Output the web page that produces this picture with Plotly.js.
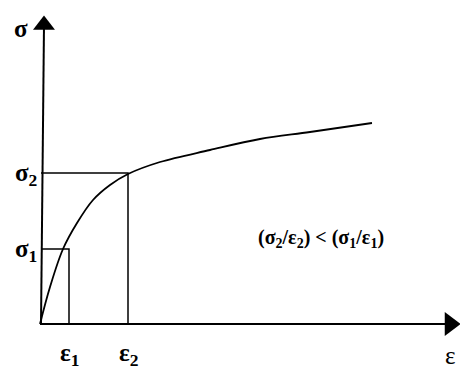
<!DOCTYPE html>
<html>
<head>
<meta charset="utf-8">
<script src="https://cdn.plot.ly/plotly-3.0.1.min.js"></script>
<style>html,body{margin:0;padding:0;background:#fff;}#chart{width:460px;height:371px;}</style>
</head>
<body>
<div id="chart"></div>
<script>
// Stress–strain curve (arbitrary units)
const curveStrain = [0, 10, 23, 37, 53, 70, 88, 120, 170, 220, 270, 332];
const curveStress = [0, 37, 75, 101, 124, 139, 150, 162, 174, 185, 192, 201];
// Marked points
const strainMarks = [29, 88];
const stressMarks = [75, 151];
const strainLabels = ['ε<sub>1</sub>', 'ε<sub>2</sub>'];
const stressLabels = ['σ<sub>1</sub>', 'σ<sub>2</sub>'];
// Axis extents
const xAxisEnd = 410;
const yAxisEnd = 299;

const black = '#000';
const traces = [];
// x axis
traces.push({x: [0, xAxisEnd], y: [0, 0], mode: 'lines', line: {color: black, width: 2}, hoverinfo: 'skip'});
traces.push({x: [xAxisEnd], y: [0], mode: 'markers', marker: {symbol: 'triangle-right', size: 21, color: black}, hoverinfo: 'skip'});
// y axis
traces.push({x: [1, 4], y: [0, yAxisEnd], mode: 'lines', line: {color: black, width: 2}, hoverinfo: 'skip'});
traces.push({x: [4], y: [yAxisEnd], mode: 'markers', marker: {symbol: 'triangle-up', size: 19, color: black}, hoverinfo: 'skip'});
// rectangles
for (let i = 0; i < strainMarks.length; i++) {
  traces.push({x: [1, strainMarks[i], strainMarks[i]], y: [stressMarks[i], stressMarks[i], 0],
    mode: 'lines', line: {color: black, width: 1.5}, hoverinfo: 'skip'});
}
// curve
traces.push({x: curveStrain, y: curveStress, mode: 'lines', line: {color: black, width: 1.8, shape: 'spline', smoothing: 1}, hoverinfo: 'skip'});

const font = {family: 'Liberation Serif, Times New Roman, serif', color: black, size: 25};
const annotations = [];
for (let i = 0; i < strainMarks.length; i++) {
  annotations.push({x: strainMarks[i], y: -30, xref: 'x', yref: 'y', text: '<b>' + strainLabels[i] + '</b>', showarrow: false, font: font, xanchor: 'center', yanchor: 'middle'});
  annotations.push({x: -1, y: stressMarks[i] - 1, xref: 'x', yref: 'y', text: '<b>' + stressLabels[i] + '</b>', showarrow: false, font: font, xanchor: 'right', yanchor: 'middle'});
}
annotations.push({x: -19, y: 296, xref: 'x', yref: 'y', text: '<b>σ</b>', showarrow: false, font: font, xanchor: 'center', yanchor: 'middle'});
annotations.push({x: 410, y: -47, xref: 'x', yref: 'y', text: 'ε', showarrow: false, font: font, xanchor: 'center', yanchor: 'bottom'});
annotations.push({x: 281, y: 86, xref: 'x', yref: 'y',
  text: '<b>(σ<sub>2</sub>/ε<sub>2</sub>) &lt; (σ<sub>1</sub>/ε<sub>1</sub>)</b>',
  showarrow: false, font: Object.assign({}, font, {size: 20}), xanchor: 'center', yanchor: 'middle'});

const layout = {
  width: 460, height: 371,
  margin: {l: 0, r: 0, t: 0, b: 0, pad: 0},
  paper_bgcolor: '#fff', plot_bgcolor: '#fff',
  showlegend: false,
  xaxis: {range: [-40, 420], visible: false, fixedrange: true},
  yaxis: {range: [-47, 324], visible: false, fixedrange: true},
  annotations: annotations
};
traces.forEach(t => t.cliponaxis = false);
Plotly.newPlot('chart', traces, layout, {staticPlot: true, displayModeBar: false});
</script>
</body>
</html>
